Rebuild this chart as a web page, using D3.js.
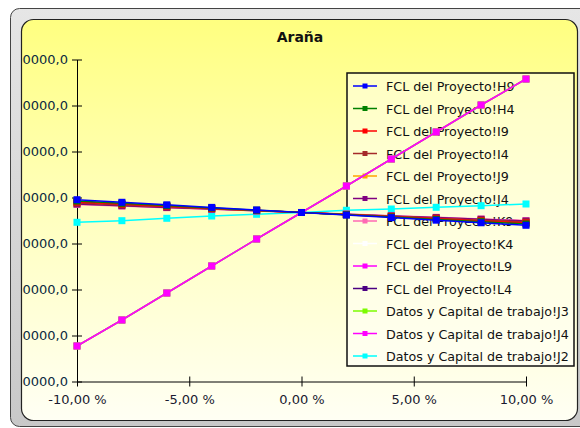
<!DOCTYPE html>
<html>
<head>
<meta charset="utf-8">
<script src="https://cdn.jsdelivr.net/npm/d3@7"></script>
<style>
  html, body { margin: 0; padding: 0; background: #ffffff; }
  svg { display: block; }
</style>
</head>
<body>
<svg id="chart" width="580" height="428"></svg>
<script>
// ---------- DATA ----------
const chartTitle = "Araña";
const variation = [-10, -8, -6, -4, -2, 0, 2, 4, 6, 8, 10];
const xTicks = [-10, -5, 0, 5, 10];
const yTicks = [100000, 200000, 300000, 400000, 500000, 600000, 700000, 800000];

const seriesNames = [
  "FCL del Proyecto!H9", "FCL del Proyecto!H4", "FCL del Proyecto!I9", "FCL del Proyecto!I4",
  "FCL del Proyecto!J9", "FCL del Proyecto!J4", "FCL del Proyecto!K9", "FCL del Proyecto!K4",
  "FCL del Proyecto!L9", "FCL del Proyecto!L4", "Datos y Capital de trabajo!J3",
  "Datos y Capital de trabajo!J4", "Datos y Capital de trabajo!J2"
];
const seriesColors = [
  "#0000ff", "#008000", "#ff0000", "#a52a2a", "#ffa500", "#800080", "#ff69b4",
  "#ffffff", "#ff00ff", "#4b0082", "#7cfc00", "#ff00ff", "#00ffff"
];

const fclH9 = [495200, 489600, 484100, 478500, 472900, 467400, 461800, 456300, 450700, 445100, 439600];
const fclH4 = [492400, 487400, 482400, 477400, 472400, 467400, 462400, 457400, 452400, 447400, 442400];
const fclI9 = [490200, 485600, 481000, 476500, 471900, 467400, 462800, 458200, 453700, 449100, 444600];
const fclI4 = [488000, 483900, 479700, 475600, 471500, 467400, 463200, 459100, 455000, 450800, 446700];
const fclJ9 = [489100, 484800, 480400, 476100, 471700, 467400, 463000, 458700, 454300, 450000, 445700];
const fclJ4 = [485900, 482200, 478500, 474800, 471100, 467400, 463700, 460000, 456300, 452600, 448900];
const fclK9 = [484800, 481300, 477800, 474400, 470900, 467400, 463900, 460400, 457000, 453500, 450000];
const fclK4 = [487000, 483100, 479200, 475200, 471300, 467400, 463500, 459600, 455600, 451700, 447800];
const fclL9 = [177200, 233700, 292400, 351100, 409800, 467400, 525000, 583700, 642400, 701100, 757600];
const fclL4 = [488500, 484300, 480000, 475800, 471600, 467400, 463200, 459000, 454700, 450500, 446300];
const datosJ3 = [177200, 233700, 292400, 351100, 409800, 467400, 525000, 583700, 642400, 701100, 757600];
const datosJ4 = [177200, 233700, 292400, 351100, 409800, 467400, 525000, 583700, 642400, 701100, 757600];
const datosJ2 = [446100, 449600, 454800, 459800, 463500, 467400, 472200, 475000, 478700, 482200, 485900];

const seriesValues = [fclH9, fclH4, fclI9, fclI4, fclJ9, fclJ4, fclK9, fclK4, fclL9, fclL4, datosJ3, datosJ4, datosJ2];

// ---------- DRAW ----------
const svg = d3.select("#chart");
const font = "'DejaVu Sans', Verdana, sans-serif";
const loc = d3.formatLocale({decimal: ",", thousands: ".", grouping: [3], currency: ["", ""], minus: "-"});
const fmtY = loc.format(".1f");
const fmtX = loc.format(".2f");

const defs = svg.append("defs");
const bevel = defs.append("linearGradient").attr("id", "bevel").attr("x1", 0).attr("y1", 0).attr("x2", 0).attr("y2", 1);
bevel.append("stop").attr("offset", "0%").attr("stop-color", "#e6e6e6");
bevel.append("stop").attr("offset", "100%").attr("stop-color", "#c8c8c8");
const bg = defs.append("linearGradient").attr("id", "panelbg").attr("x1", 0).attr("y1", 0).attr("x2", 0).attr("y2", 1);
bg.append("stop").attr("offset", "0%").attr("stop-color", "#ffff80");
bg.append("stop").attr("offset", "50%").attr("stop-color", "#ffffc0");
bg.append("stop").attr("offset", "100%").attr("stop-color", "#fffff4");
defs.append("clipPath").attr("id", "panelclip")
  .append("rect").attr("x", 22).attr("y", 20).attr("width", 556).attr("height", 400).attr("rx", 12);

// frame
svg.append("rect").attr("x", 10.5).attr("y", 8.5).attr("width", 580).attr("height", 418)
  .attr("rx", 9).attr("fill", "url(#bevel)").attr("stroke", "#444").attr("stroke-width", 1);
svg.append("rect").attr("x", 21.5).attr("y", 19.5).attr("width", 556).attr("height", 401)
  .attr("rx", 12).attr("fill", "url(#panelbg)").attr("stroke", "#222").attr("stroke-width", 1.2);

const g = svg.append("g").attr("clip-path", "url(#panelclip)");

const x = d3.scaleLinear().domain([-10, 10]).range([77, 526]);
const y = d3.scaleLinear().domain([100000, 800000]).range([381.5, 59.5]);

// title
svg.append("text").attr("x", 300).attr("y", 42).attr("text-anchor", "middle")
  .attr("font-family", font).attr("font-size", 14).attr("font-weight", "bold").attr("fill", "#111")
  .text(chartTitle);

// axes
const yAxis = d3.axisLeft(y).tickValues(yTicks).tickFormat(fmtY).tickSizeInner(5).tickSizeOuter(0).tickPadding(4);
const yg = g.append("g").attr("transform", "translate(77,0)").call(yAxis);
yg.selectAll(".tick line").attr("x2", 5).attr("x1", -5).attr("stroke", "#000");
yg.select(".domain").attr("stroke", "#000");
yg.selectAll("text").attr("font-family", font).attr("font-size", 13).attr("fill", "#0b2a40").attr("x", -9);

const xAxis = d3.axisBottom(x).tickValues(xTicks).tickFormat(d => fmtX(d) + " %").tickSizeInner(5).tickSizeOuter(0).tickPadding(8);
const xg = g.append("g").attr("transform", "translate(0,381.5)").call(xAxis);
xg.selectAll(".tick line").attr("y1", -5).attr("y2", 5).attr("stroke", "#000");
xg.select(".domain").attr("stroke", "#000");
xg.selectAll("text").attr("font-family", font).attr("font-size", 13).attr("fill", "#1a1a30");

// legend (under series)
const lg = g.append("g");
lg.append("rect").attr("x", 347).attr("y", 73).attr("width", 227).attr("height", 293)
  .attr("fill", "#ffffff").attr("fill-opacity", 0.45).attr("stroke", "#111").attr("stroke-width", 1.5);
seriesNames.forEach((name, i) => {
  const cy = 86 + i * 22.5;
  lg.append("line").attr("x1", 353).attr("x2", 377).attr("y1", cy).attr("y2", cy)
    .attr("stroke", seriesColors[i]).attr("stroke-width", 1.5);
  lg.append("rect").attr("x", 362.5).attr("y", cy - 2.5).attr("width", 5).attr("height", 5).attr("fill", seriesColors[i]);
  lg.append("text").attr("x", 386).attr("y", cy + 5).attr("font-family", font).attr("font-size", 12.7)
    .attr("fill", "#111").text(name);
});

// series, drawn in reverse so the first is on top
const line = d3.line().x((d, i) => x(variation[i])).y(d => y(d));
for (let s = seriesNames.length - 1; s >= 0; s--) {
  const vals = seriesValues[s];
  const sg = g.append("g");
  sg.append("path").attr("d", line(vals)).attr("fill", "none")
    .attr("stroke", seriesColors[s]).attr("stroke-width", 1.5);
  sg.selectAll("rect").data(vals).enter().append("rect")
    .attr("x", (d, i) => x(variation[i]) - 3.5).attr("y", d => y(d) - 3.5)
    .attr("width", 7).attr("height", 7).attr("fill", seriesColors[s]);
}
</script>
</body>
</html>
